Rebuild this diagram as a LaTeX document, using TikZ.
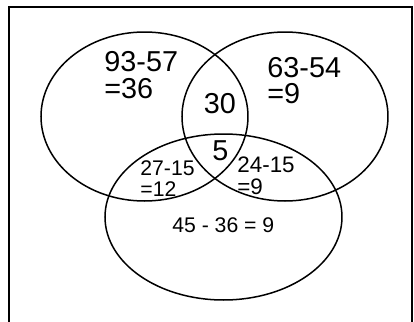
\documentclass[tikz,border=0pt]{standalone}
\usepackage{fontspec}
\setmainfont{Liberation Sans}
\usepackage{tikz}
\usetikzlibrary{shapes.geometric}

\tikzset{
  setring/.style={draw, ellipse, line width=0.75pt, inner sep=0pt},
  bignum/.style={inner sep=0pt, align=left, font=\fontsize{14.4}{13.3}\selectfont},
  smallnum/.style={inner sep=0pt, align=left, font=\fontsize{10.6}{10.7}\selectfont}
}

\begin{document}
\begin{tikzpicture}[x=0.5pt, y=-0.5pt]
  \useasboundingbox (0,0) rectangle (414,322);

  % Frame
  \draw[line width=1pt] (9,7) rectangle (412.5,340);

  % The three sets
  \node[setring, minimum width=207pt*0.5, minimum height=169pt*0.5] (setA) at (144.5,116.5) {};
  \node[setring, minimum width=206pt*0.5, minimum height=169pt*0.5] (setB) at (285,116.5) {};
  \node[setring, minimum width=237pt*0.5, minimum height=166pt*0.5] (setC) at (223.5,217) {};

  % Only one set
  \node[bignum, anchor=north west] (onlyA) at (104,51) {93-57\\=36};
  \node[bignum, anchor=north west] (onlyB) at (267,56.5) {63-54\\=9};
  \node[smallnum] (onlyC) at (223.3,225.3) {45 - 36 = 9};

  % Overlaps
  \node[bignum] (AB) at (220,104) {30};
  \node[bignum] (ABC) at (220.5,150.5) {5};
  \node[smallnum, anchor=north west] (AC) at (140,160) {27-15\\=12};
  \node[smallnum, anchor=north west, font=\fontsize{11.2}{10.9}\selectfont] (BC) at (237,156.5) {24-15\\=9};
\end{tikzpicture}
\end{document}
